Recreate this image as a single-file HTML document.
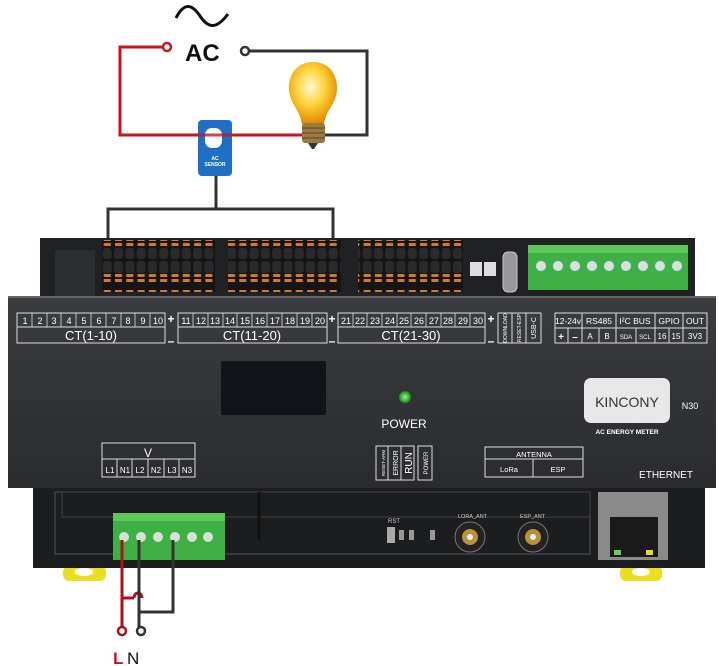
<!DOCTYPE html>
<html><head><meta charset="utf-8"><style>
html,body{margin:0;padding:0;background:#fff}
svg{display:block}
text{font-family:"Liberation Sans",sans-serif}
</style></head><body>
<svg width="719" height="666" viewBox="0 0 719 666" xmlns="http://www.w3.org/2000/svg">
<defs>
<linearGradient id="pnl" x1="0" y1="0" x2="0" y2="1"><stop offset="0" stop-color="#3a3c3f"/><stop offset="1" stop-color="#2a2b2e"/></linearGradient>
<radialGradient id="bulb" cx="0.45" cy="0.4" r="0.6"><stop offset="0" stop-color="#fffbd0"/><stop offset="0.5" stop-color="#ffd23a"/><stop offset="1" stop-color="#e08a00"/></radialGradient>
<radialGradient id="led" cx="0.5" cy="0.5" r="0.5"><stop offset="0" stop-color="#8f8"/><stop offset="1" stop-color="#1a8a1a"/></radialGradient>
<pattern id="tb" width="11.3" height="52" patternUnits="userSpaceOnUse"><rect width="11.3" height="52" fill="#151515"/><rect x="1" y="1" width="9" height="12" rx="3" fill="#2a2a2a"/><rect x="2" y="14" width="7" height="3" fill="#d07a2a"/><rect x="2" y="19" width="7" height="3" fill="#d07a2a"/><rect x="2" y="30" width="7" height="3" fill="#d07a2a"/><rect x="2" y="35" width="7" height="3" fill="#d07a2a"/><rect x="1" y="40" width="9" height="11" rx="3" fill="#2a2a2a"/></pattern>
</defs>

<!-- AC source -->
<path d="M176,18 C184,2 192,4 200,16 C208,28 216,30 228,14" fill="none" stroke="#111" stroke-width="3"/>
<text x="185" y="61" font-size="24" font-weight="bold" fill="#111">AC</text>
<polyline points="163,47 120,47 120,135 305,135" fill="none" stroke="#c8141e" stroke-width="3"/>
<circle cx="167" cy="47" r="4" fill="#fff" stroke="#c8141e" stroke-width="2.5"/>
<polyline points="249,51 367,51 367,135 325,135" fill="none" stroke="#333" stroke-width="3"/>
<circle cx="245" cy="51" r="4" fill="#fff" stroke="#333" stroke-width="2.5"/>
<!-- bulb -->
<path d="M313,62 C330,62 338,76 337,90 C336,104 326,110 324,124 L302,124 C300,110 290,104 289,90 C288,76 296,62 313,62Z" fill="url(#bulb)"/>
<rect x="302" y="123" width="23" height="20" rx="3" fill="#9a7a40"/>
<line x1="302" y1="128" x2="325" y2="128" stroke="#5a4420"/><line x1="302" y1="133" x2="325" y2="133" stroke="#5a4420"/><line x1="302" y1="138" x2="325" y2="138" stroke="#5a4420"/>
<path d="M308,143 L318,143 L314,149 L312,149Z" fill="#333"/>
<!-- sensor -->
<rect x="198" y="120" width="34" height="56" rx="4" fill="#1f6fc4"/>
<rect x="205" y="128" width="17" height="20" rx="7" fill="#fff"/>
<line x1="198" y1="135" x2="232" y2="135" stroke="#c8141e" stroke-width="3" opacity="0.8"/>
<text x="215" y="160" font-size="5" font-weight="bold" fill="#fff" text-anchor="middle">AC</text>
<text x="215" y="166" font-size="5" font-weight="bold" fill="#fff" text-anchor="middle">SENSOR</text>
<polyline points="216,176 216,209" fill="none" stroke="#333" stroke-width="3"/>
<polyline points="108,242 108,209 333,209 333,242" fill="none" stroke="#333" stroke-width="3"/>

<!-- back upper housing -->
<rect x="40" y="238" width="655" height="62" fill="#202124"/>
<rect x="55" y="250" width="40" height="48" fill="#2c2d30"/>
<rect x="102" y="240" width="113" height="52" fill="url(#tb)"/>
<rect x="228" y="240" width="113" height="52" fill="url(#tb)"/>
<rect x="358" y="240" width="105" height="52" fill="url(#tb)"/>
<rect x="470" y="262" width="12" height="14" fill="#ddd"/><rect x="484" y="262" width="12" height="14" fill="#ddd"/>
<rect x="503" y="252" width="14" height="40" rx="5" fill="#999" stroke="#ccc"/>
<rect x="528" y="245" width="160" height="45" fill="#3fb043"/>
<rect x="528" y="245" width="160" height="8" fill="#5cc95a"/>
<g fill="#d8e0d8" stroke="#4a7" stroke-width="1">
<circle cx="541" cy="266" r="5.5"/><circle cx="558" cy="266" r="5.5"/><circle cx="575" cy="266" r="5.5"/><circle cx="592" cy="266" r="5.5"/><circle cx="609" cy="266" r="5.5"/><circle cx="626" cy="266" r="5.5"/><circle cx="643" cy="266" r="5.5"/><circle cx="660" cy="266" r="5.5"/><circle cx="677" cy="266" r="5.5"/>
</g>

<!-- front panel -->
<rect x="8" y="296" width="708" height="192" fill="url(#pnl)"/>
<line x1="8" y1="297" x2="716" y2="297" stroke="#666" stroke-width="2"/>
<g stroke="#ddd" stroke-width="1" fill="none">
<rect x="17" y="313" width="148" height="30"/><line x1="17" y1="327" x2="165" y2="327"/>
<rect x="178" y="313" width="149" height="30"/><line x1="178" y1="327" x2="327" y2="327"/>
<rect x="338" y="313" width="147" height="30"/><line x1="338" y1="327" x2="485" y2="327"/>
<rect x="498" y="313" width="43" height="30"/><line x1="512" y1="313" x2="512" y2="343"/><line x1="526" y1="313" x2="526" y2="343"/>
<rect x="555" y="313" width="152" height="30"/><line x1="555" y1="328" x2="707" y2="328"/>
<line x1="582" y1="313" x2="582" y2="343"/><line x1="616" y1="313" x2="616" y2="343"/><line x1="655" y1="313" x2="655" y2="343"/><line x1="683" y1="313" x2="683" y2="343"/>
<line x1="568" y1="328" x2="568" y2="343"/><line x1="599" y1="328" x2="599" y2="343"/><line x1="636" y1="328" x2="636" y2="343"/><line x1="669" y1="328" x2="669" y2="343"/>
<rect x="102" y="443" width="93" height="34"/><line x1="102" y1="459" x2="195" y2="459"/>
<line x1="117" y1="459" x2="117" y2="477"/><line x1="132" y1="459" x2="132" y2="477"/><line x1="148" y1="459" x2="148" y2="477"/><line x1="164" y1="459" x2="164" y2="477"/><line x1="179" y1="459" x2="179" y2="477"/>
<rect x="376" y="446" width="38" height="34"/><line x1="388" y1="446" x2="388" y2="480"/><line x1="401" y1="446" x2="401" y2="480"/>
<rect x="418" y="446" width="14" height="34"/>
<rect x="485" y="447" width="98" height="30"/><line x1="485" y1="459" x2="583" y2="459"/><line x1="533" y1="459" x2="533" y2="477"/>
</g>
<g fill="#fff" font-size="9" text-anchor="middle">
<g stroke="#ddd" stroke-width="0.8" fill="none">
<path d="M32,313v14M47,313v14M61,313v14M76,313v14M91,313v14M106,313v14M121,313v14M135,313v14M150,313v14"/>
<path d="M193,313v14M208,313v14M223,313v14M237,313v14M252,313v14M267,313v14M282,313v14M297,313v14M312,313v14"/>
<path d="M353,313v14M367,313v14M382,313v14M397,313v14M411,313v14M426,313v14M441,313v14M455,313v14M470,313v14"/>
</g>
<text x="25" y="324">1</text><text x="40" y="324">2</text><text x="54" y="324">3</text><text x="69" y="324">4</text><text x="84" y="324">5</text><text x="99" y="324">6</text><text x="114" y="324">7</text><text x="128" y="324">8</text><text x="143" y="324">9</text><text x="158" y="324">10</text>
<text x="186" y="324">11</text><text x="201" y="324">12</text><text x="215" y="324">13</text><text x="230" y="324">14</text><text x="245" y="324">15</text><text x="260" y="324">16</text><text x="275" y="324">17</text><text x="290" y="324">18</text><text x="305" y="324">19</text><text x="320" y="324">20</text>
<text x="346" y="324">21</text><text x="360" y="324">22</text><text x="375" y="324">23</text><text x="390" y="324">24</text><text x="404" y="324">25</text><text x="419" y="324">26</text><text x="434" y="324">27</text><text x="448" y="324">28</text><text x="463" y="324">29</text><text x="478" y="324">30</text>
<text x="91" y="340" font-size="13">CT(1-10)</text>
<text x="252" y="340" font-size="13">CT(11-20)</text>
<text x="411" y="340" font-size="13">CT(21-30)</text>
<text x="171" y="323" font-size="12" font-weight="bold">+</text><text x="171" y="345" font-size="12" font-weight="bold">–</text>
<text x="332" y="323" font-size="12" font-weight="bold">+</text><text x="332" y="345" font-size="12" font-weight="bold">–</text>
<text x="491" y="323" font-size="12" font-weight="bold">+</text><text x="491" y="345" font-size="12" font-weight="bold">–</text>
<text transform="translate(507,328) rotate(-90)" font-size="5">DOWNLOAD</text>
<text transform="translate(521,328) rotate(-90)" font-size="5">RESET-ESP</text>
<text transform="translate(536,328) rotate(-90)" font-size="7">USB-C</text>
<text x="568" y="324" font-size="8.5">12-24v</text><text x="599" y="324" font-size="8.5">RS485</text><text x="635" y="324" font-size="8.5">I²C BUS</text><text x="669" y="324" font-size="8.5">GPIO</text><text x="695" y="324" font-size="8.5">OUT</text>
<text x="561" y="340" font-size="10" font-weight="bold">+</text><text x="575" y="340" font-size="10" font-weight="bold">–</text>
<text x="590" y="339" font-size="8">A</text><text x="607" y="339" font-size="8">B</text><text x="626" y="339" font-size="6">SDA</text><text x="645" y="339" font-size="6">SCL</text><text x="662" y="339" font-size="8">16</text><text x="676" y="339" font-size="8">15</text><text x="695" y="339" font-size="8">3V3</text>
<text x="148" y="457" font-size="12">V</text>
<text x="110" y="473" font-size="8">L1</text><text x="125" y="473" font-size="8">N1</text><text x="140" y="473" font-size="8">L2</text><text x="156" y="473" font-size="8">N2</text><text x="172" y="473" font-size="8">L3</text><text x="187" y="473" font-size="8">N3</text>
<text transform="translate(385,463) rotate(-90)" font-size="4.5">RESET-ARM</text>
<text transform="translate(398,463) rotate(-90)" font-size="7">ERROR</text>
<text transform="translate(412,463) rotate(-90)" font-size="10">RUN</text>
<text transform="translate(428,463) rotate(-90)" font-size="6">POWER</text>
<text x="534" y="457" font-size="7.5">ANTENNA</text>
<text x="509" y="472" font-size="7.5">LoRa</text><text x="558" y="472" font-size="7.5">ESP</text>
<text x="404" y="428" font-size="12">POWER</text>
<text x="666" y="478" font-size="10">ETHERNET</text>
<text x="690" y="409" font-size="9">N30</text>
<text x="627" y="434" font-size="6.5" font-weight="bold">AC ENERGY METER</text>
</g>
<rect x="221" y="361" width="105" height="54" rx="2" fill="#111318"/>
<circle cx="405" cy="397" r="6" fill="url(#led)"/>
<rect x="584" y="378" width="86" height="45" rx="7" fill="#e8e8e8"/>
<text x="627" y="407" font-size="14" fill="#333" text-anchor="middle">KINCONY</text>

<!-- feet -->
<rect x="63" y="566" width="43" height="15" rx="6" fill="#e8e020"/>
<ellipse cx="84" cy="572" rx="9" ry="4" fill="#fff"/>
<rect x="620" y="566" width="42" height="15" rx="6" fill="#e8e020"/>
<ellipse cx="641" cy="572" rx="9" ry="4" fill="#fff"/>

<!-- lower back housing -->
<rect x="33" y="488" width="672" height="80" fill="#1c1d1f"/>
<rect x="55" y="492" width="535" height="62" fill="none" stroke="#555" stroke-width="1"/>
<rect x="62" y="492" width="528" height="25" fill="none" stroke="#444"/>
<line x1="259" y1="492" x2="259" y2="540" stroke="#111" stroke-width="3"/>
<rect x="113" y="513" width="112" height="47" fill="#3fb043"/>
<rect x="113" y="513" width="112" height="8" fill="#5cc95a"/>
<circle cx="124" cy="537" r="5" fill="#d8e0d8"/><circle cx="141" cy="537" r="5" fill="#d8e0d8"/><circle cx="158" cy="537" r="5" fill="#d8e0d8"/><circle cx="175" cy="537" r="5" fill="#d8e0d8"/><circle cx="192" cy="537" r="5" fill="#d8e0d8"/><circle cx="208" cy="537" r="5" fill="#d8e0d8"/>
<rect x="387" y="527" width="8" height="16" fill="#aaa"/><rect x="399" y="530" width="5" height="10" fill="#999"/><rect x="409" y="530" width="5" height="10" fill="#999"/><rect x="430" y="530" width="5" height="10" fill="#999"/>
<text x="388" y="523" font-size="6" fill="#ccc">RST</text>
<circle cx="470" cy="537" r="15" fill="#222" stroke="#777"/><circle cx="470" cy="537" r="8" fill="#b8923a"/><circle cx="470" cy="537" r="3" fill="#eee"/>
<circle cx="533" cy="537" r="15" fill="#222" stroke="#777"/><circle cx="533" cy="537" r="8" fill="#b8923a"/><circle cx="533" cy="537" r="3" fill="#eee"/>
<text x="458" y="518" font-size="5.5" fill="#ccc">LORA_ANT</text><text x="520" y="518" font-size="5.5" fill="#ccc">ESP_ANT</text>
<rect x="598" y="492" width="70" height="68" fill="#8a8a8a"/>
<rect x="610" y="517" width="48" height="40" fill="#1a1a1a"/>
<rect x="614" y="550" width="7" height="5" fill="#6c6"/><rect x="646" y="550" width="7" height="5" fill="#dd3"/>

<!-- bottom wiring -->
<polyline points="122,540 122,627" fill="none" stroke="#b01018" stroke-width="3"/>
<polyline points="122,598 134,598 M142,598 156,598 156,540" fill="none" stroke="#b01018" stroke-width="3"/>
<path d="M134,598 a4,5 0 0 1 8,0" fill="none" stroke="#b01018" stroke-width="3"/>
<polyline points="139,540 139,627" fill="none" stroke="#333" stroke-width="3"/>
<polyline points="139,612 173,612 173,540" fill="none" stroke="#333" stroke-width="3"/>
<circle cx="122" cy="631" r="4" fill="#fff" stroke="#b01018" stroke-width="2.5"/>
<circle cx="141" cy="631" r="4" fill="#fff" stroke="#333" stroke-width="2.5"/>
<text x="113" y="664" font-size="17" font-weight="bold" fill="#c8141e">L</text>
<text x="127" y="664" font-size="17" fill="#111">N</text>
</svg>
</body></html>
